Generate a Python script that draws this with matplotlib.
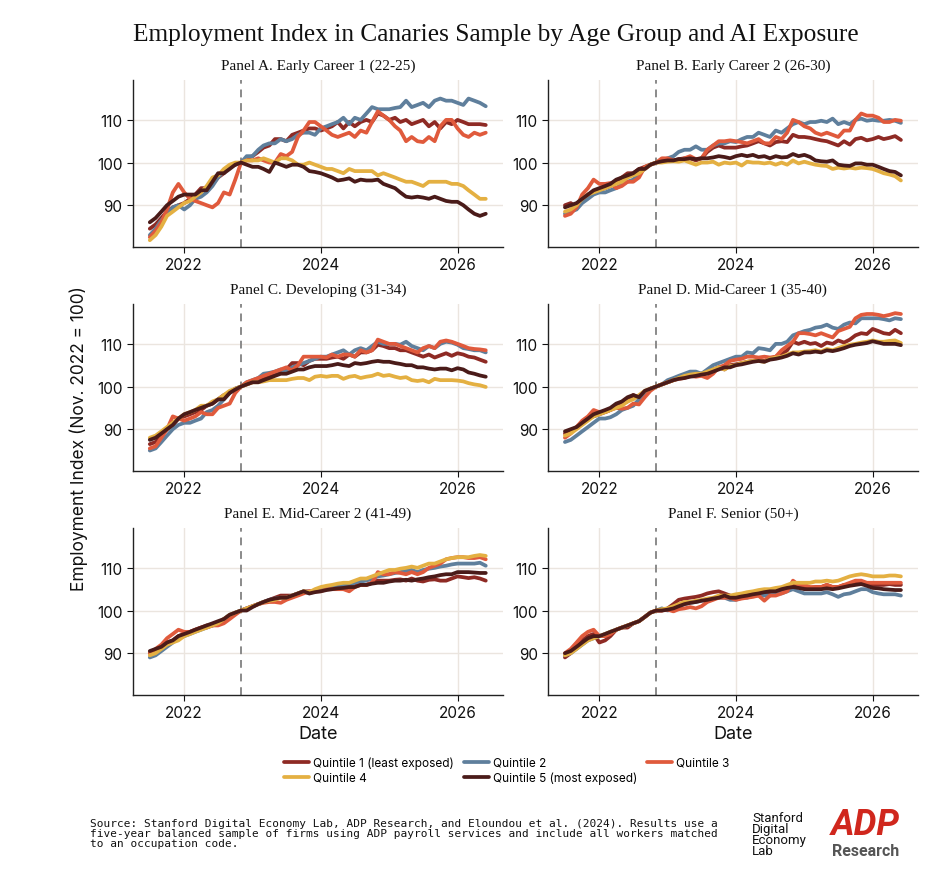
import matplotlib
matplotlib.use("Agg")
import matplotlib.pyplot as plt
import matplotlib.dates as mdates
import pandas as pd

# monthly index, Jul 2021 - Jun 2026
dates = pd.date_range("2021-07-01", periods=60, freq="MS")
ref_date = pd.Timestamp("2022-11-01")

quintile_labels = ["Quintile 1 (least exposed)", "Quintile 2", "Quintile 3",
                   "Quintile 4", "Quintile 5 (most exposed)"]
quintile_colors = ["#8e2a24", "#5f7f9c", "#e05a3c", "#e4b042", "#4a1b19"]

panel_titles = ["Panel A. Early Career 1 (22-25)",
                "Panel B. Early Career 2 (26-30)",
                "Panel C. Developing (31-34)",
                "Panel D. Mid-Career 1 (35-40)",
                "Panel E. Mid-Career 2 (41-49)",
                "Panel F. Senior (50+)"]

# Panel A
a_q1 = [84.5, 85.5, 87.0, 88.5, 89.5, 90.0, 90.5, 91.5, 92.5, 94.0, 94.0, 95.0,
        96.5, 97.5, 99.0, 99.5, 100.0, 101.0, 101.5, 102.5, 103.5, 104.0, 105.5, 105.5,
        105.0, 106.5, 107.0, 107.5, 108.0, 108.0, 107.5, 108.0, 108.5, 109.5, 108.0, 109.5,
        108.5, 109.5, 110.0, 109.5, 111.5, 111.0, 110.0, 110.5, 109.5, 110.0, 109.0, 109.5,
        110.0, 108.5, 109.5, 108.0, 109.5, 109.0, 110.0, 109.5, 109.0, 109.0, 109.0, 108.8]
a_q2 = [83.0, 84.5, 86.5, 88.0, 89.5, 90.0, 89.0, 90.0, 91.5, 92.0, 93.0, 94.5,
        96.5, 98.0, 99.0, 99.5, 100.0, 101.5, 101.5, 103.0, 104.0, 104.5, 104.5, 105.5,
        105.0, 105.5, 106.5, 107.0, 107.0, 106.5, 108.0, 108.5, 109.0, 109.5, 110.5, 109.0,
        110.5, 110.0, 111.5, 113.0, 112.5, 112.5, 112.5, 112.8, 113.0, 114.5, 113.0, 113.5,
        114.0, 113.0, 114.5, 115.0, 114.5, 114.5, 114.0, 113.5, 115.0, 114.5, 114.0, 113.2]
a_q3 = [82.5, 84.0, 86.0, 89.0, 93.0, 95.0, 93.0, 91.5, 91.0, 90.5, 90.0, 89.5,
        90.5, 93.0, 92.5, 96.0, 100.0, 100.5, 100.5, 101.0, 100.5, 100.0, 100.0, 102.0,
        101.5, 102.5, 106.0, 107.5, 109.5, 109.5, 108.5, 107.5, 106.5, 106.0, 106.5, 107.0,
        106.0, 107.5, 107.0, 109.5, 112.0, 111.0, 110.0, 108.5, 107.5, 105.0, 106.0, 105.0,
        104.8, 106.0, 105.0, 108.5, 110.0, 110.0, 108.0, 106.5, 106.0, 107.0, 106.5, 107.0]
a_q4 = [81.8, 83.0, 85.0, 87.5, 88.5, 89.5, 90.5, 91.0, 92.0, 93.0, 94.5, 96.5,
        97.0, 98.5, 99.5, 100.0, 100.0, 100.5, 100.5, 100.5, 101.0, 100.5, 100.0, 101.0,
        101.0, 100.5, 99.5, 99.5, 100.0, 99.5, 99.0, 98.5, 98.5, 98.0, 97.5, 98.5,
        98.0, 98.0, 98.0, 98.0, 97.0, 97.5, 97.0, 96.5, 96.0, 95.5, 95.5, 95.0,
        94.5, 95.5, 95.5, 95.5, 95.5, 95.0, 95.0, 94.5, 93.5, 92.5, 91.5, 91.5]
a_q5 = [86.0, 87.0, 88.5, 90.0, 91.0, 92.0, 92.5, 92.5, 92.5, 93.5, 93.5, 95.5,
        97.5, 97.5, 98.5, 99.5, 100.0, 99.5, 99.0, 99.0, 98.5, 97.8, 100.0, 99.5,
        99.0, 99.5, 99.5, 99.0, 98.0, 97.8, 97.5, 97.0, 96.5, 95.8, 96.0, 96.3,
        95.5, 96.0, 95.8, 95.8, 96.0, 95.0, 94.5, 94.0, 93.0, 92.0, 91.8, 92.0,
        91.8, 91.5, 92.0, 91.5, 91.0, 90.8, 90.8, 90.0, 89.0, 88.0, 87.5, 88.0]

# Panel B
b_q1 = [90.0, 90.5, 89.5, 91.5, 92.5, 93.0, 93.5, 94.0, 94.5, 95.5, 96.5, 97.5,
        97.5, 98.5, 99.0, 99.5, 100.0, 100.5, 100.5, 100.5, 100.8, 101.0, 101.0, 100.5,
        101.0, 102.5, 103.5, 104.0, 103.5, 103.5, 103.5, 103.8, 104.0, 104.5, 105.0, 104.5,
        104.0, 104.8, 105.0, 104.8, 106.5, 106.0, 106.0, 105.8, 105.5, 105.2, 105.0, 104.5,
        104.0, 105.0, 104.2, 105.5, 105.8, 105.2, 105.5, 106.0, 105.5, 105.8, 106.2, 105.3]
b_q2 = [88.0, 88.5, 89.0, 90.5, 91.5, 92.5, 93.0, 93.0, 93.5, 94.0, 95.0, 95.5,
        96.0, 97.5, 98.5, 99.5, 100.0, 100.5, 101.0, 101.5, 102.5, 103.0, 103.0, 103.8,
        103.0, 103.0, 104.0, 104.5, 104.5, 105.0, 104.8, 105.5, 106.0, 106.0, 107.0, 106.5,
        106.0, 107.5, 107.0, 108.0, 109.0, 109.5, 109.0, 109.5, 109.5, 109.8, 109.5, 110.3,
        109.0, 109.5, 109.0, 110.0, 110.3, 109.8, 110.0, 109.8, 109.8, 110.0, 109.8, 109.3]
b_q3 = [87.5, 88.0, 89.5, 92.5, 94.0, 96.0, 95.0, 95.0, 95.2, 94.0, 94.5, 95.5,
        95.5, 96.5, 99.0, 99.5, 100.0, 101.0, 101.0, 100.5, 100.5, 101.0, 101.5, 100.8,
        101.0, 103.0, 104.0, 105.0, 105.0, 105.2, 105.0, 104.8, 104.5, 105.0, 105.5, 104.5,
        104.5, 106.0, 105.5, 107.0, 110.0, 109.5, 108.5, 108.0, 107.0, 106.5, 107.0, 106.5,
        106.0, 107.5, 107.5, 110.0, 111.5, 111.0, 111.0, 110.5, 109.5, 109.5, 110.0, 109.8]
b_q4 = [88.5, 89.0, 90.0, 91.5, 92.5, 93.0, 93.5, 94.0, 94.5, 95.0, 95.5, 96.5,
        97.0, 97.5, 98.5, 99.5, 100.0, 100.0, 100.2, 100.3, 100.2, 100.5, 100.0, 99.5,
        100.0, 100.0, 100.2, 99.5, 100.0, 99.8, 100.0, 99.3, 100.2, 100.0, 100.0, 99.8,
        100.0, 99.5, 100.0, 99.5, 100.5, 99.8, 100.2, 99.8, 99.5, 99.3, 99.2, 98.5,
        98.8, 98.6, 98.8, 98.6, 98.8, 98.7, 98.5, 98.0, 97.5, 97.2, 96.8, 95.8]
b_q5 = [89.5, 90.0, 90.5, 91.5, 92.5, 93.5, 94.0, 94.5, 95.0, 96.0, 96.5, 97.0,
        97.5, 98.5, 98.5, 99.5, 100.0, 100.3, 100.5, 100.5, 100.8, 100.8, 101.0, 100.8,
        101.0, 101.0, 101.2, 101.5, 101.3, 101.0, 101.5, 101.8, 101.5, 101.8, 101.3, 101.5,
        101.0, 101.5, 101.2, 101.3, 102.0, 101.5, 101.8, 101.3, 100.5, 100.3, 100.2, 100.5,
        99.5, 99.3, 99.2, 99.8, 99.8, 99.5, 99.5, 99.0, 98.5, 98.0, 97.8, 97.0]

# Panel C
c_q1 = [86.5, 87.0, 88.5, 90.0, 91.0, 92.5, 93.0, 93.5, 94.0, 94.5, 95.5, 96.0,
        97.0, 98.0, 98.5, 99.5, 100.0, 100.5, 101.0, 101.5, 102.0, 102.5, 103.0, 103.5,
        104.0, 105.5, 105.5, 105.0, 106.0, 106.5, 106.5, 106.5, 106.8, 107.0, 106.5, 107.5,
        107.0, 108.0, 108.0, 108.5, 109.8, 109.5, 109.0, 109.0, 108.5, 108.5, 108.0, 107.5,
        107.0, 107.5, 106.8, 107.3, 107.8, 107.2, 107.8, 107.5, 107.0, 106.8, 106.3, 105.8]
c_q2 = [85.0, 85.5, 87.0, 88.5, 90.0, 91.0, 91.5, 91.5, 92.0, 92.5, 94.0, 94.5,
        95.5, 97.0, 98.5, 99.5, 100.0, 101.0, 101.5, 102.0, 103.0, 103.2, 103.5, 104.0,
        103.5, 104.5, 105.0, 105.5, 106.0, 106.5, 107.0, 107.0, 107.5, 108.0, 108.5, 107.5,
        108.5, 109.0, 108.5, 109.5, 110.5, 110.0, 110.0, 110.0, 109.8, 110.5, 109.5, 109.0,
        108.5, 109.5, 109.0, 110.0, 110.5, 110.3, 109.8, 109.0, 108.8, 108.5, 108.5, 108.0]
c_q3 = [85.5, 86.0, 88.0, 90.0, 93.0, 92.5, 92.0, 92.5, 93.0, 94.0, 93.5, 93.5,
        95.0, 95.5, 96.0, 98.5, 100.0, 101.0, 101.5, 102.0, 102.5, 103.0, 103.5, 104.0,
        104.5, 103.8, 105.0, 107.0, 107.0, 107.0, 107.0, 106.8, 107.5, 107.0, 107.5, 107.5,
        107.0, 108.5, 108.0, 108.5, 111.0, 110.5, 110.0, 110.0, 109.5, 109.0, 108.5, 108.0,
        109.0, 109.5, 109.0, 110.5, 110.8, 110.5, 110.0, 109.5, 109.0, 108.8, 108.7, 108.5]
c_q4 = [88.0, 88.5, 89.5, 90.5, 91.5, 92.5, 93.5, 94.0, 94.5, 95.5, 95.5, 96.5,
        97.0, 98.0, 99.0, 99.5, 100.0, 100.5, 101.0, 101.0, 101.2, 101.5, 101.5, 101.5,
        101.5, 101.8, 102.0, 102.0, 101.5, 102.3, 102.5, 102.3, 102.5, 102.5, 101.8, 102.3,
        102.5, 102.0, 102.3, 102.5, 103.0, 102.5, 102.7, 102.3, 102.0, 102.2, 101.5, 101.3,
        101.5, 101.0, 101.8, 101.5, 101.5, 101.5, 101.4, 101.2, 100.8, 100.5, 100.3, 99.9]
c_q5 = [87.5, 88.0, 89.0, 90.0, 91.0, 92.5, 93.5, 94.0, 94.5, 95.0, 95.5, 96.0,
        97.0, 97.0, 98.5, 99.3, 100.0, 100.5, 101.0, 101.0, 101.5, 102.0, 102.5, 103.0,
        103.0, 103.5, 104.0, 104.0, 104.5, 104.8, 104.8, 104.8, 105.0, 105.3, 105.0, 104.8,
        105.5, 105.3, 105.5, 105.8, 106.0, 105.8, 105.8, 105.5, 105.3, 105.0, 105.0, 104.5,
        104.5, 104.2, 104.0, 104.2, 104.2, 103.8, 104.3, 104.0, 103.3, 103.0, 102.6, 102.3]

# Panel D
d_q1 = [89.0, 89.5, 90.5, 91.5, 92.5, 93.0, 93.5, 94.0, 94.5, 95.5, 96.0, 96.5,
        98.0, 97.5, 98.5, 99.5, 100.0, 100.5, 101.0, 101.5, 102.0, 102.5, 103.0, 103.0,
        103.0, 103.5, 104.0, 104.5, 104.0, 105.0, 105.2, 105.5, 105.8, 106.0, 106.2, 106.0,
        106.5, 107.0, 107.5, 108.5, 110.5, 110.0, 110.5, 110.0, 110.2, 109.5, 110.3, 110.0,
        110.8, 110.3, 111.0, 112.0, 112.5, 112.3, 113.5, 113.0, 112.5, 112.3, 113.3, 112.5]
d_q2 = [87.0, 87.5, 88.5, 89.5, 90.5, 91.5, 92.5, 92.5, 92.8, 93.5, 94.5, 95.0,
        95.5, 97.0, 98.5, 99.5, 100.0, 100.5, 101.5, 102.0, 102.5, 103.0, 103.5, 103.5,
        103.0, 104.0, 105.0, 105.5, 106.0, 106.5, 107.0, 107.0, 108.0, 107.8, 109.0, 108.8,
        108.5, 110.0, 110.0, 110.5, 112.0, 112.5, 113.0, 113.3, 113.8, 114.0, 114.5, 113.8,
        113.5, 114.5, 115.0, 114.8, 116.0, 116.0, 116.0, 116.0, 115.8, 115.5, 116.0, 115.8]
d_q3 = [88.0, 89.0, 90.5, 92.0, 93.0, 94.5, 94.0, 94.0, 94.5, 95.0, 94.8, 95.0,
        96.0, 95.8, 97.5, 99.0, 100.0, 100.5, 101.0, 101.5, 101.8, 102.0, 102.5, 102.3,
        102.5, 102.0, 103.0, 104.5, 105.0, 106.0, 106.3, 106.5, 107.0, 107.0, 106.8, 107.0,
        106.8, 107.0, 108.5, 109.5, 110.5, 112.5, 112.5, 112.3, 112.0, 112.5, 112.0, 111.5,
        113.0, 113.5, 114.0, 116.0, 116.8, 117.0, 117.0, 116.8, 116.5, 116.8, 117.2, 117.0]
d_q4 = [88.5, 89.0, 90.0, 91.0, 92.0, 93.0, 93.5, 94.0, 94.5, 95.0, 95.5, 96.5,
        97.0, 98.0, 99.0, 99.5, 100.0, 100.5, 101.0, 101.5, 102.0, 102.5, 102.8, 103.0,
        103.0, 103.5, 104.0, 104.5, 104.0, 104.8, 105.0, 105.5, 105.8, 106.0, 106.0, 105.8,
        106.5, 106.8, 107.0, 107.5, 108.0, 108.0, 108.2, 108.3, 108.5, 108.2, 108.8, 108.5,
        109.0, 109.5, 109.8, 110.0, 110.3, 110.5, 110.8, 110.5, 110.5, 110.7, 110.8, 110.2]
d_q5 = [89.5, 90.0, 90.5, 91.5, 92.5, 93.5, 94.0, 94.5, 95.0, 96.0, 96.5, 97.5,
        98.0, 97.5, 99.0, 99.5, 100.0, 100.5, 101.0, 101.5, 101.8, 102.0, 102.3, 102.5,
        102.8, 103.0, 103.5, 104.0, 104.5, 104.5, 105.0, 105.2, 105.5, 105.8, 106.0, 105.8,
        106.3, 106.5, 106.8, 107.2, 107.8, 107.5, 108.0, 108.0, 108.2, 108.0, 108.5, 108.3,
        108.6, 109.0, 109.5, 109.8, 110.0, 110.2, 110.6, 110.3, 110.0, 110.0, 110.0, 109.7]

# Panel E
e_q1 = [90.0, 90.5, 91.5, 92.5, 93.0, 94.0, 94.5, 95.0, 95.5, 96.0, 96.5, 96.5,
        97.0, 98.0, 98.5, 99.5, 100.0, 100.5, 101.0, 101.5, 102.0, 102.5, 103.0, 103.5,
        103.5, 103.5, 104.0, 104.5, 104.5, 104.5, 104.8, 105.0, 105.0, 105.3, 105.5, 105.5,
        105.8, 106.0, 106.0, 106.5, 107.0, 107.0, 107.0, 107.2, 107.3, 107.0, 107.5, 107.0,
        106.8, 107.2, 107.3, 107.0, 107.0, 107.5, 108.0, 107.8, 107.6, 107.8, 107.5, 107.0]
e_q2 = [89.0, 89.5, 90.5, 91.5, 92.5, 93.5, 94.0, 94.5, 95.0, 95.5, 96.0, 96.5,
        97.0, 98.0, 99.0, 99.5, 100.0, 100.5, 101.0, 101.5, 102.0, 102.5, 102.8, 103.0,
        103.0, 103.5, 104.0, 104.5, 104.0, 104.5, 105.0, 105.2, 105.5, 105.8, 106.0, 105.8,
        106.5, 106.8, 107.0, 107.5, 108.0, 108.2, 108.5, 108.8, 109.0, 109.3, 109.5, 109.0,
        109.5, 109.8, 110.0, 110.3, 110.5, 110.8, 111.0, 111.0, 111.0, 111.0, 111.2, 110.5]
e_q3 = [90.0, 91.0, 92.0, 93.5, 94.5, 95.5, 95.0, 95.0, 95.5, 96.0, 96.0, 96.5,
        96.5, 97.0, 98.0, 99.0, 100.0, 100.5, 101.0, 101.5, 101.8, 102.0, 102.0, 101.8,
        102.5, 103.0, 103.5, 104.0, 104.5, 104.5, 104.5, 105.0, 105.0, 105.0, 105.0, 104.5,
        105.5, 106.0, 106.0, 106.5, 109.0, 108.5, 108.5, 109.0, 108.8, 108.5, 109.0, 108.5,
        109.0, 110.0, 110.5, 111.0, 112.0, 112.3, 112.5, 112.5, 112.3, 112.3, 112.5, 112.0]
e_q4 = [89.5, 90.0, 91.0, 92.0, 92.5, 93.0, 94.0, 94.5, 95.0, 95.5, 96.0, 96.5,
        97.0, 98.0, 99.0, 99.5, 100.0, 100.5, 101.0, 101.5, 102.0, 102.3, 102.5, 103.0,
        103.0, 103.5, 104.0, 104.5, 104.3, 105.0, 105.5, 105.8, 106.0, 106.3, 106.5, 106.5,
        107.0, 107.5, 107.5, 108.0, 108.5, 109.0, 109.5, 109.5, 109.8, 110.0, 110.3, 110.0,
        110.5, 111.0, 111.0, 111.5, 112.0, 112.3, 112.5, 112.5, 112.5, 112.8, 113.0, 112.8]
e_q5 = [90.5, 91.0, 91.5, 92.5, 93.0, 94.0, 94.5, 95.0, 95.5, 96.0, 96.5, 97.0,
        97.5, 98.0, 99.0, 99.5, 100.0, 100.0, 100.8, 101.5, 102.0, 102.5, 102.8, 103.0,
        103.0, 103.5, 104.0, 104.5, 104.0, 104.3, 104.5, 104.8, 105.0, 105.2, 105.3, 105.5,
        105.5, 106.0, 106.0, 106.3, 106.5, 106.5, 106.8, 107.0, 107.0, 107.2, 107.0, 107.3,
        107.5, 107.8, 108.0, 108.3, 108.5, 108.5, 109.0, 109.0, 109.0, 108.9, 108.8, 108.8]

# Panel F
f_q1 = [89.0, 90.0, 91.5, 93.0, 94.0, 94.5, 92.5, 93.0, 94.0, 95.5, 96.0, 96.0,
        97.0, 97.5, 98.5, 99.5, 100.0, 100.0, 100.5, 101.5, 102.5, 102.8, 103.0, 103.2,
        103.5, 104.0, 104.3, 104.5, 104.0, 103.5, 103.0, 103.3, 103.5, 103.8, 104.0, 104.0,
        104.0, 104.5, 104.8, 105.0, 106.0, 105.5, 105.5, 105.3, 105.5, 105.5, 106.0, 105.5,
        105.5, 106.0, 106.0, 106.5, 106.5, 106.2, 106.0, 106.0, 106.0, 106.2, 106.0, 106.0]
f_q2 = [89.5, 90.0, 91.0, 92.0, 93.0, 93.5, 94.0, 94.5, 95.0, 95.5, 96.0, 96.5,
        97.0, 97.5, 98.5, 99.5, 100.0, 100.5, 100.0, 100.5, 101.0, 101.5, 101.8, 102.0,
        102.3, 102.5, 102.8, 103.0, 103.0, 102.5, 102.5, 103.0, 103.0, 103.5, 103.5, 103.5,
        103.5, 104.0, 104.0, 104.5, 105.0, 104.5, 104.0, 104.0, 104.0, 104.0, 104.3, 103.8,
        103.2, 103.8, 104.0, 104.5, 105.0, 105.0, 104.3, 104.0, 103.8, 103.8, 103.8, 103.5]
f_q3 = [90.0, 91.0, 92.5, 94.0, 95.0, 95.5, 94.0, 94.0, 94.5, 95.5, 96.0, 96.5,
        97.0, 97.5, 98.5, 99.5, 100.0, 100.0, 100.2, 99.8, 100.3, 100.5, 100.8, 100.5,
        101.0, 102.0, 102.5, 103.0, 103.0, 103.0, 102.5, 102.8, 103.0, 103.2, 103.5, 102.3,
        103.5, 103.5, 104.0, 104.5, 107.0, 106.0, 106.0, 105.5, 105.5, 105.5, 106.0, 105.5,
        105.5, 106.0, 106.5, 107.0, 107.0, 106.5, 106.5, 106.5, 106.5, 106.5, 106.5, 106.5]
f_q4 = [89.5, 90.0, 91.0, 92.0, 93.0, 93.5, 94.0, 94.5, 95.0, 95.5, 96.0, 96.5,
        97.0, 97.5, 98.5, 99.5, 100.0, 100.3, 100.5, 101.0, 101.5, 102.0, 102.0, 102.3,
        102.5, 102.8, 103.0, 103.5, 103.5, 103.5, 103.8, 104.0, 104.3, 104.5, 104.8, 105.0,
        105.0, 105.3, 105.5, 106.0, 106.5, 106.5, 106.5, 106.5, 106.8, 106.8, 107.0, 106.8,
        107.0, 107.5, 108.0, 108.3, 108.5, 108.3, 108.0, 108.0, 108.0, 108.2, 108.2, 108.0]
f_q5 = [90.0, 90.5, 91.5, 92.5, 93.5, 94.0, 94.0, 94.5, 95.0, 95.5, 96.0, 96.5,
        97.0, 97.5, 98.5, 99.5, 100.0, 100.0, 100.2, 100.5, 101.0, 101.5, 101.8, 102.0,
        102.3, 102.5, 102.8, 103.0, 103.5, 103.0, 103.0, 103.3, 103.5, 103.8, 104.0, 104.3,
        104.5, 104.5, 105.0, 105.3, 105.5, 105.3, 105.0, 105.0, 105.0, 105.0, 105.2, 105.0,
        105.2, 105.5, 105.8, 106.0, 106.2, 105.8, 105.3, 105.2, 105.0, 104.9, 104.8, 104.8]

panels = [[a_q1, a_q2, a_q3, a_q4, a_q5],
          [b_q1, b_q2, b_q3, b_q4, b_q5],
          [c_q1, c_q2, c_q3, c_q4, c_q5],
          [d_q1, d_q2, d_q3, d_q4, d_q5],
          [e_q1, e_q2, e_q3, e_q4, e_q5],
          [f_q1, f_q2, f_q3, f_q4, f_q5]]

serif = ["Liberation Serif", "DejaVu Serif"]
sans = ["Inter", "DejaVu Sans"]
narrow = ["Roboto", "DejaVu Sans"]

plt.rcParams["font.family"] = sans

fig = plt.figure(figsize=(9.5, 8.78), dpi=100)
W, H = 950, 878

# axes boxes in figure fractions
lefts = [0.140, 0.577]
bottoms = [0.7175, 0.4624, 0.2073]
w, h = 0.389, 0.190

handles = []
for i, series in enumerate(panels):
    row, col = divmod(i, 2)
    ax = fig.add_axes([lefts[col], bottoms[row], w, h])
    for j, vals in enumerate(series):
        ln, = ax.plot(dates, vals, color=quintile_colors[j], lw=2.7,
                      label=quintile_labels[j], solid_capstyle="round")
        if i == 0:
            handles.append(ln)
    ax.axvline(ref_date, color="#8a8a8a", ls=(0, (4, 3)), lw=1.4, zorder=1)
    ax.set_ylim(80.2, 119.3)
    ax.set_yticks([90, 100, 110])
    ax.xaxis.set_major_locator(mdates.YearLocator(2))
    ax.xaxis.set_major_formatter(mdates.DateFormatter("%Y"))
    ax.grid(True, color="#ebe5df", lw=1.0, zorder=0)
    ax.set_axisbelow(True)
    for s in ["top", "right"]:
        ax.spines[s].set_visible(False)
    for s in ["left", "bottom"]:
        ax.spines[s].set_color("#222222")
        ax.spines[s].set_linewidth(1.0)
    ax.tick_params(labelsize=11, colors="#111111", length=4, width=0.8)
    ax.set_title(panel_titles[i], fontsize=11, family=serif, pad=8,
                 color="#111111")
    if row == 2:
        ax.set_xlabel("Date", fontsize=13, color="#111111", labelpad=3)

fig.text(0.083, 0.500, "Employment Index (Nov. 2022 = 100)", rotation=90,
         fontsize=12.5, ha="center", va="center", color="#111111")

fig.suptitle("Employment Index in Canaries Sample by Age Group and AI Exposure",
             x=0.522, y=0.973, fontsize=18.3, family=serif, color="#111111")

# legend laid out as a 3-column grid, row-major; one small legend per cell
# so that every row lines up exactly
legend_cells = [(284, 764), (464, 764), (647, 764), (284, 779), (464, 779)]
for k, (px, py) in enumerate(legend_cells):
    fig.legend([handles[k]], [quintile_labels[k]], loc="center left",
               bbox_to_anchor=(px / W, 1 - py / H), frameon=False,
               fontsize=8.5, handlelength=2.1, handletextpad=0.35,
               borderpad=0, borderaxespad=0)

fig.text(0.095, 1 - 834 / H,
         "Source: Stanford Digital Economy Lab, ADP Research, and Eloundou et al. (2024). Results use a\n"
         "five-year balanced sample of firms using ADP payroll services and include all workers matched\n"
         "to an occupation code.",
         family="DejaVu Sans Mono", fontsize=8, ha="left", va="center",
         color="#111111", linespacing=0.95)

fig.text(752 / W, 1 - 835 / H, "Stanford\nDigital\nEconomy\nLab",
         family=narrow, fontsize=9.5, ha="left", va="center",
         color="#111111", linespacing=0.8)
fig.text(865 / W, 1 - 825 / H, "ADP", family=narrow, fontsize=26,
         weight="bold", style="italic", ha="center", va="center",
         color="#d0271d")
fig.text(866 / W, 1 - 852 / H, "Research", family=narrow,
         fontsize=11.5, weight="bold", ha="center", va="center",
         color="#555555")

fig.savefig("out.png", dpi=100)
